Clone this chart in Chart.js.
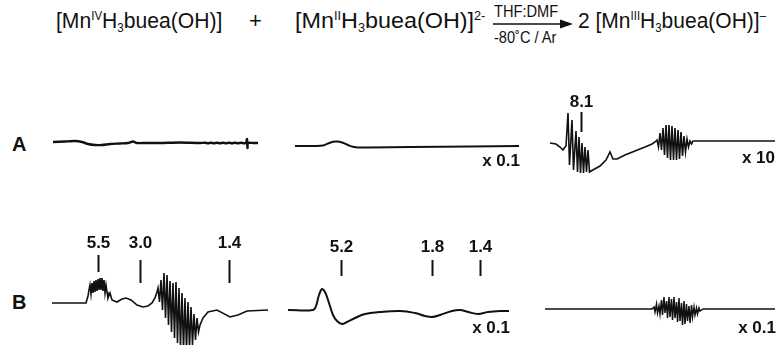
<!DOCTYPE html>
<html>
<head>
<meta charset="utf-8">
<script src="https://cdn.jsdelivr.net/npm/chart.js@4"></script>
<style>
  body { margin: 0; background: #fff; }
  #page { position: relative; width: 783px; height: 345px; overflow: hidden; background: #fff; }
  canvas { position: absolute; }
  .hdr { position: absolute; top: 8px; font-family: "Liberation Sans", Arial, sans-serif; font-size: 22px; color: #111; white-space: nowrap; line-height: 26px; transform-origin: left top; }
  .hdr sup { font-size: 12px; vertical-align: 8px; line-height: 0; }
  .hdr sub { font-size: 12px; vertical-align: -4px; line-height: 0; }
  .cond { position: absolute; font-family: "Liberation Sans", Arial, sans-serif; font-size: 16px; color: #111; white-space: nowrap; line-height: 18px; transform-origin: left top; }
  .row { position: absolute; font-family: "Liberation Sans", Arial, sans-serif; font-weight: bold; font-size: 20px; color: #111; }
</style>
</head>
<body>
<div id="page">
  <div class="hdr fit" data-w="166" style="left:56px">[Mn<sup>IV</sup>H<sub>3</sub>buea(OH)]</div>
  <div class="hdr" style="left:249px">+</div>
  <div class="hdr fit" data-w="190" style="left:295px">[Mn<sup>II</sup>H<sub>3</sub>buea(OH)]<sup>2-</sup></div>
  <div class="cond fit" data-w="64" style="left:494px; top:3px">THF:DMF</div>
  <svg style="position:absolute; left:492px; top:18px" width="82" height="12">
    <line x1="1" y1="6" x2="70" y2="6" stroke="#111" stroke-width="1.4"/>
    <polygon points="81,6 68,1.5 68,10.5" fill="#111"/>
  </svg>
  <div class="cond fit" data-w="62" style="left:494px; top:29px">-80˚C / Ar</div>
  <div class="hdr fit" data-w="188" style="left:578px">2 [Mn<sup>III</sup>H<sub>3</sub>buea(OH)]<sup>–</sup></div>
  <div class="row" style="left:12px; top:133px">A</div>
  <div class="row" style="left:12px; top:291px">B</div>

  <canvas id="A1" width="215" height="50" style="left:50px; top:120px"></canvas>
  <canvas id="A2" width="235" height="55" style="left:290px; top:120px"></canvas>
  <canvas id="A3" width="243" height="92" style="left:540px; top:88px"></canvas>
  <canvas id="B1" width="230" height="117" style="left:45px; top:228px"></canvas>
  <canvas id="B2" width="245" height="117" style="left:280px; top:228px"></canvas>
  <canvas id="B3" width="243" height="117" style="left:540px; top:228px"></canvas>
</div>
<script>
// EPR traces, field in arbitrary units across each panel, signal in arbitrary intensity (0 = baseline)

// A: Mn(IV) starting material
const fieldA1 = [3, 15, 25, 32, 38, 45, 52, 60, 70, 78, 83, 87, 95, 110, 130, 150,
  155, 158, 161, 164, 167, 170, 173, 176, 179, 182, 185, 188, 191, 194,
  196, 197, 197.5, 198, 203, 208];
const signalA1 = [1, 1.5, 2, 1, -1, -2, -2, -1, -0.5, 0, 1.5, 0, 0, 0, 0.5, 0,
  0.3, -0.3, 0.3, -0.3, 0.3, -0.3, 0.3, -0.3, 0.3, -0.3, 0.3, -0.3, 0.3, -0.3,
  0, 4, -5, 0, 0, 0];

// A: Mn(II) starting material
const fieldA2 = [5, 25, 33, 38, 43, 47, 52, 58, 63, 68, 80, 120, 180, 229];
const signalA2 = [0, 0, 0.5, 2.5, 4.2, 4.5, 3.5, 1, -0.8, -1.5, -1.5, -1, -0.5, 0];

// A: Mn(III) product, parallel mode
const fieldA3 = [10, 16, 20, 23, 25, 26,
  28, 29.5, 32, 33.5, 36, 37.5, 39, 40.5, 42, 43.5, 45, 46.5, 48, 49.5,
  51, 60, 66, 70, 73, 77, 85, 95, 105, 112, 115,
  117, 118.5, 120, 121.5, 123, 124.5, 126, 127.5, 129, 130.5, 132, 133.5,
  135, 136.5, 138, 139.5, 141, 142.5, 144, 145.5, 147, 148.5, 150, 151.5,
  153, 170, 200, 235];
const signalA3 = [0, -1, -4, -7, -4, -3,
  30, -22, 23, -27, 12, -29, 6, -30, 0, -30, -4, -29, -7, -29,
  -28, -23, -17, -9, -16, -16, -12, -8, -4, -1, 1,
  3, -4, 10, -7, 15, -12, 18, -15, 18, -17, 17, -17,
  15, -17, 13, -16, 11, -13, 7, -9, 4, -4, 2, -1,
  2, 2, 2, 2];

// B: perpendicular mode
const fieldB1 = [7, 41, 43, 44,
  45, 46, 47, 48, 49, 50, 51, 52, 53, 54, 55, 56, 57, 58, 59, 60, 61,
  62, 63, 65, 67, 72, 77, 81, 86, 92, 98, 103, 107, 110, 112,
  113, 114.5, 116, 117.5, 119, 120.5, 122, 123.5, 125, 126.5, 128, 129.5, 131, 132.5,
  134, 135.5, 137, 138.5, 140, 141.5, 143, 144.5, 146, 147.5, 149, 150.5, 152, 153.5,
  155, 158, 163, 172, 185, 193, 202, 223];
const signalB1 = [0, 0, 7, 13,
  18, 9, 20, 10, 22, 11, 23, 12, 24, 13, 25, 13, 25, 12, 23, 10, 18,
  11, 5, 10, 3, 1, 4, 5, 3, -2, -4, -3, 0, 5, 11,
  15, 1, 23, -7, 30, -15, 28, -22, 22, -29, 20, -35, 21, -40,
  15, -44, 10, -47, 5, -47, 1, -45, -4, -42, -11, -37, -15, -29,
  -22, -15, -9, -7, -14, -12, -8, -7];

const fieldB2 = [8, 33, 36, 39, 42, 45, 49, 53, 57, 62, 67, 75, 85, 100, 120, 135,
  145, 152, 160, 172, 180, 188, 198, 208, 220, 229];
const signalB2 = [0, 0, 4, 15, 21, 18, 7, -5, -11, -14, -12, -8, -4, -2, -1, -3,
  -6, -7, -5, -1, 0, -2, -4, -2, -1, -1];

const fieldB3 = [5, 112,
  114, 115, 116.5, 117.5, 119, 120, 121.5, 122.5, 124, 125, 126.5, 127.5, 129, 130,
  131.5, 132.5, 134, 135, 136.5, 137.5, 139, 140, 141.5, 142.5, 144, 145, 146.5, 147.5,
  149, 150, 151.5, 152.5, 154, 155, 156.5, 157.5, 159, 160,
  163, 235];
const signalB3 = [0, 0,
  2, -3, 5, -4, 3, -5, 9, -6, 12, -4, 8, -9, 12, -8, 10, -11, 12, -9,
  7, -13, 11, -12, 6, -16, 8, -15, 5, -12, 3, -14, 4, -8, 2, -6,
  1, -5, 1, -2,
  0, 0];

// g-value markers
const gLabelsA3 = ['8.1'];
const gFieldA3 = [41];
const gLabelsB1 = ['5.5', '3.0', '1.4'];
const gFieldB1 = [53, 95, 184];
const gLabelsB2 = ['5.2', '1.8', '1.4'];
const gFieldB2 = [61, 152, 200];

// panel layout (canvas size in px = axis ranges)
const panels = [
  { id: 'A1', field: fieldA1, signal: signalA1, w: 215, yMin: -27, yMax: 23, width: 2.4, tension: 0.2 },
  { id: 'A2', field: fieldA2, signal: signalA2, w: 235, yMin: -29, yMax: 26, width: 2, tension: 0.4,
    note: { text: 'x 0.1', x: 230, y: -15 } },
  { id: 'A3', field: fieldA3, signal: signalA3, w: 243, yMin: -37, yMax: 55, width: 1.6, tension: 0,
    note: { text: 'x 10', x: 235, y: -15 },
    marks: { labels: gLabelsA3, field: gFieldA3, top: [31], bottom: [11], labelY: 41 } },
  { id: 'B1', field: fieldB1, signal: signalB1, w: 230, yMin: -42, yMax: 75, width: 1.6, tension: 0,
    marks: { labels: gLabelsB1, field: gFieldB1, top: [48, 43, 43], bottom: [31, 20, 20], labelY: 60 } },
  { id: 'B2', field: fieldB2, signal: signalB2, w: 245, yMin: -35, yMax: 82, width: 2, tension: 0.4,
    note: { text: 'x 0.1', x: 230, y: -18 },
    marks: { labels: gLabelsB2, field: gFieldB2, top: [50, 50, 50], bottom: [34, 34, 34], labelY: 63 } },
  { id: 'B3', field: fieldB3, signal: signalB3, w: 243, yMin: -36, yMax: 81, width: 1.5, tension: 0,
    note: { text: 'x 0.1', x: 236, y: -19 } }
];

// squeeze header pieces to the widths seen in the figure
document.querySelectorAll('.fit').forEach(el => {
  const natural = el.scrollWidth;
  el.style.transform = 'scaleX(' + (el.dataset.w / natural) + ')';
});

// draws g-value tick marks and the scale factor note with the panel's own scales
const annotations = {
  id: 'annotations',
  afterDatasetsDraw(chart, args, opts) {
    const ctx = chart.ctx;
    const xs = chart.scales.x, ys = chart.scales.y;
    ctx.save();
    ctx.fillStyle = '#111';
    ctx.strokeStyle = '#111';
    ctx.font = 'bold 17px "Liberation Sans", Arial, sans-serif';
    if (opts.marks) {
      const m = opts.marks;
      ctx.lineWidth = 2;
      ctx.textAlign = 'center';
      ctx.textBaseline = 'middle';
      m.field.forEach((f, i) => {
        const px = Math.round(xs.getPixelForValue(f)) + 0.5;
        ctx.beginPath();
        ctx.moveTo(px, ys.getPixelForValue(m.top[i]));
        ctx.lineTo(px, ys.getPixelForValue(m.bottom[i]));
        ctx.stroke();
        ctx.fillText(m.labels[i], px, ys.getPixelForValue(m.labelY));
      });
    }
    if (opts.note) {
      ctx.textAlign = 'right';
      ctx.textBaseline = 'middle';
      ctx.fillText(opts.note.text, xs.getPixelForValue(opts.note.x), ys.getPixelForValue(opts.note.y));
    }
    ctx.restore();
  }
};

panels.forEach(p => {
  const points = p.field.map((f, i) => ({ x: f, y: p.signal[i] }));
  new Chart(document.getElementById(p.id), {
    type: 'line',
    data: {
      datasets: [{
        data: points,
        borderColor: '#111',
        borderWidth: p.width,
        pointRadius: 0,
        tension: p.tension,
        fill: false
      }]
    },
    options: {
      responsive: false,
      animation: false,
      layout: { padding: 0 },
      plugins: {
        legend: { display: false },
        tooltip: { enabled: false },
        annotations: { marks: p.marks, note: p.note }
      },
      scales: {
        x: { type: 'linear', min: 0, max: p.w, display: false },
        y: { min: p.yMin, max: p.yMax, display: false }
      }
    },
    plugins: [annotations]
  });
});
</script>
</body>
</html>
